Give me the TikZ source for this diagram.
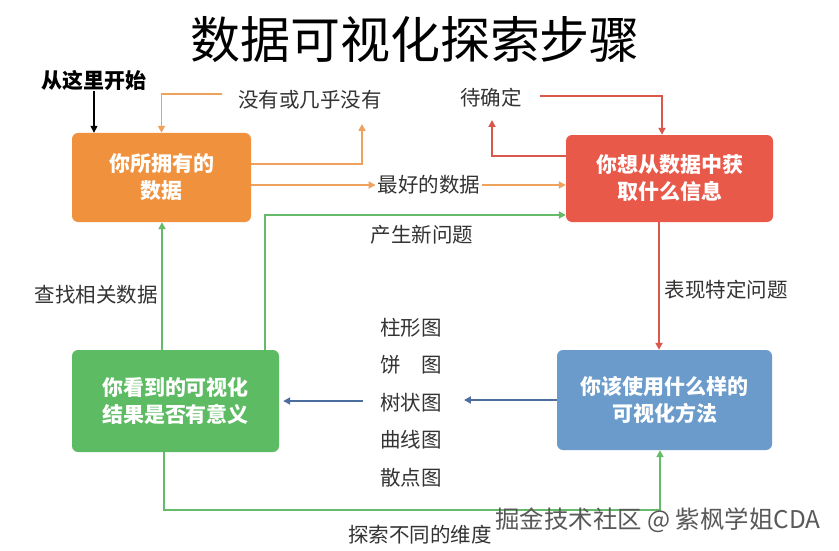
\documentclass[tikz,border=0pt]{standalone}
\usepackage{fontspec}
\setmainfont{Noto Sans CJK SC}
\usetikzlibrary{arrows.meta,calc}
\definecolor{obox}{HTML}{F0913E}
\definecolor{oline}{HTML}{EFA25E}
\definecolor{rbox}{HTML}{E8594A}
\definecolor{rline}{HTML}{D9574B}
\definecolor{gbox}{HTML}{5DBB63}
\definecolor{gline}{HTML}{66BB6A}
\definecolor{bbox}{HTML}{6A9BCB}
\definecolor{bline}{HTML}{4C6E9E}
\definecolor{txt}{HTML}{333333}
\tikzset{
  box/.style={rounded corners=6pt, text=white, font=\fontsize{21}{27}\selectfont\bfseries, align=center, inner sep=0pt},
  lbl/.style={text=txt, font=\fontsize{20.5}{24}\selectfont, inner sep=2pt},
  tip/.style={-{Triangle[length=7pt,width=7pt]}, line width=1.8pt},
  oa/.style={tip, draw=oline},
  ra/.style={tip, draw=rline},
  ga/.style={tip, draw=gline},
  ba/.style={tip, draw=bline},
}
\begin{document}
\begin{tikzpicture}[x=1pt,y=-1pt]
\useasboundingbox[fill=white] (0,0) rectangle (839,551);
% title
\node (title) at (415,40) {\fontsize{50}{54}\selectfont 数据可视化探索步骤};
% boxes
\node[box, fill=obox, minimum width=179pt, minimum height=89pt] (o) at (161.5,177.5) {你所拥有的\\数据};
\node[box, fill=rbox, minimum width=207pt, minimum height=87pt] (r) at (669.5,178.5) {你想从数据中获\\取什么信息};
\node[box, fill=gbox, minimum width=207pt, minimum height=102pt] (g) at (175.5,401) {你看到的可视化\\结果是否有意义};
\node[box, fill=bbox, minimum width=215pt, minimum height=100pt] (bl) at (664.5,400) {你该使用什么样的\\可视化方法};
% start
\node[font=\fontsize{21}{24}\selectfont\bfseries, inner sep=1pt] (start) at (94,80) {从这里开始};
\draw[-{Triangle[length=7pt,width=7pt]}, line width=1.3pt] (start.south) -- (o.north -| start);
% labels
\node[lbl] (n1) at (310,100) {没有或几乎没有};
\node[lbl] (best) at (429,185) {最好的数据};
\node[lbl] (tbd) at (491,98) {待确定};
\node[lbl] (newq) at (422,235) {产生新问题};
\node[lbl] (spec) at (726,290) {表现特定问题};
\node[lbl] (find) at (96,295) {查找相关数据};
\node[lbl] (dim) at (420,535) {探索不同的维度};
\node[text=txt, font=\fontsize{20.5}{37.5}\selectfont, align=left, inner sep=2pt] (list) at (411,402.5) {柱形图\\饼\hspace{1em}图\\树状图\\曲线图\\散点图};
% coordinates
\coordinate (c1) at (222,94);
\coordinate (c2) at (362,124);
\coordinate (c3) at (540,96);
\coordinate (c4) at (492,120);
\coordinate (g1) at (164,510);
\coordinate (g2) at (660,510);
% orange connectors
\draw[oa] (c1) -| (o.north);
\draw[oa] ([yshift=13.5pt]o.east) -| (c2);
\draw[oa] (o.east |- best) -- (best.west);
\draw[oa] (best.east) -- (r.west |- best);
% red connectors
\draw[ra] (c3) -| ([xshift=-7.5pt]r.north);
\draw[ra] ([yshift=22.5pt]r.west) -| (c4);
\draw[ra] (r.south -| 659,0) -- (bl.north -| 659,0);
% green connectors
\draw[ga] ([xshift=89.5pt]g.north) |- (r.west |- 0,215);
\draw[ga] (g.north -| 162,0) -- (o.south -| 162,0);
\draw[ga] (g.south -| g1) -- (g1) -- (g2) -- (bl.south -| g2);
% blue connectors
\draw[ba] (bl.west) -- ([xshift=20pt]list.east |- bl.west);
\draw[ba] ([xshift=-15pt]list.west |- g.east) -- ([xshift=4pt]g.east);
% watermark
\node[text=black!65, font=\fontsize{24.4}{26}\selectfont, inner sep=0pt] (wm) at (658,520) {掘金技术社区 @ 紫枫学姐CDA};
\end{tikzpicture}
\end{document}
